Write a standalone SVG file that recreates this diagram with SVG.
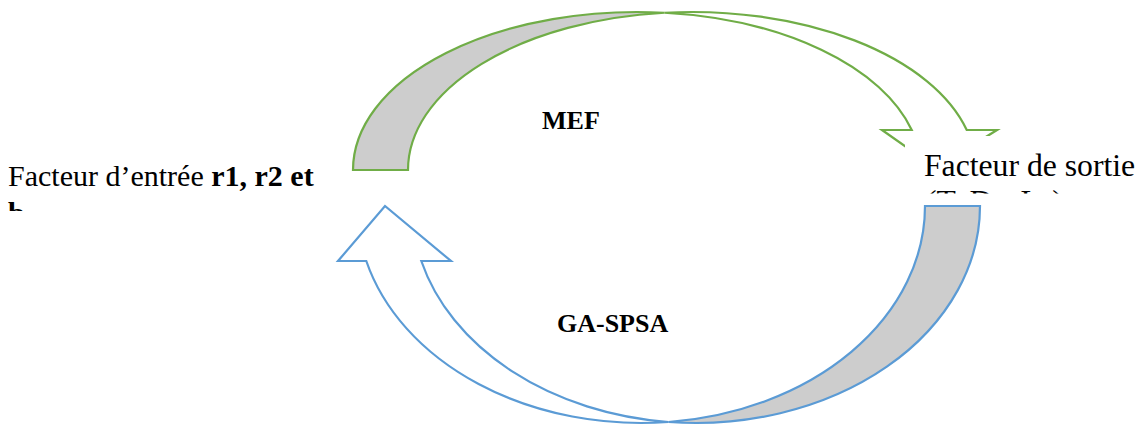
<svg xmlns="http://www.w3.org/2000/svg" width="1139" height="425" viewBox="0 0 1139 425">
  <style>
    .green { stroke: #70AD47; stroke-width: 2.2; stroke-linejoin: miter; }
    .blue { stroke: #5B9BD5; stroke-width: 2.2; stroke-linejoin: miter; }
    .back { fill: #CDCDCD; }
    .front { fill: #FFFFFF; }
    .txt { font-family: "Liberation Serif", "Times New Roman", serif; fill: #000000; }
    .b { font-weight: bold; }
  </style>
  <defs>
    <clipPath id="clipLeft"><rect x="0" y="140" width="335" height="71"/></clipPath>
    <clipPath id="clipRight"><rect x="905" y="136" width="234" height="57.5"/></clipPath>
  </defs>
  <rect width="1139" height="425" fill="#FFFFFF"/>
  <g id="connectors">
    <g id="arrow-mef">
      <path class="green back" d="M353,170 A284,158 0 0 1 664.5,12.74 A284,158 0 0 0 408,170 Z"/>
      <path class="green front" d="M664.5,12.74 A284,158 0 0 1 966.75,130 L997,130 L936,168 L882,130 L911.75,130 A284,158 0 0 0 664.5,12.74 Z"/>
    </g>
    <g id="arrow-gaspsa">
      <path class="blue back" d="M925,206 L980,206 A284,217 0 0 1 668.5,421.98 A284,217 0 0 0 925,206 Z"/>
      <path class="blue front" d="M668.5,421.98 A284,217 0 0 1 366.3,261 L338,261 L385,206 L451,261 L421.3,261 A284,217 0 0 0 668.5,421.98 Z"/>
    </g>
  </g>
  <g id="label-mef">
    <text class="txt b" x="542" y="129" font-size="26">MEF</text>
  </g>
  <g id="label-gaspsa">
    <text class="txt b" x="557" y="332" font-size="26">GA-SPSA</text>
  </g>
  <g id="node-input">
    <g clip-path="url(#clipLeft)">
      <text class="txt" x="8" y="186" font-size="30">Facteur d’entrée <tspan class="b">r1, r2 et</tspan></text>
      <text class="txt b" x="8" y="223" font-size="30">b</text>
    </g>
  </g>
  <g id="node-output">
    <rect x="905" y="136" width="234" height="57.5" fill="#FFFFFF"/>
    <g clip-path="url(#clipRight)">
      <text class="txt" x="924" y="175.5" font-size="31.7">Facteur de sortie</text>
      <text class="txt" x="926" y="212" font-size="31.7">(T, Ds, Ls)</text>
    </g>
  </g>
</svg>
